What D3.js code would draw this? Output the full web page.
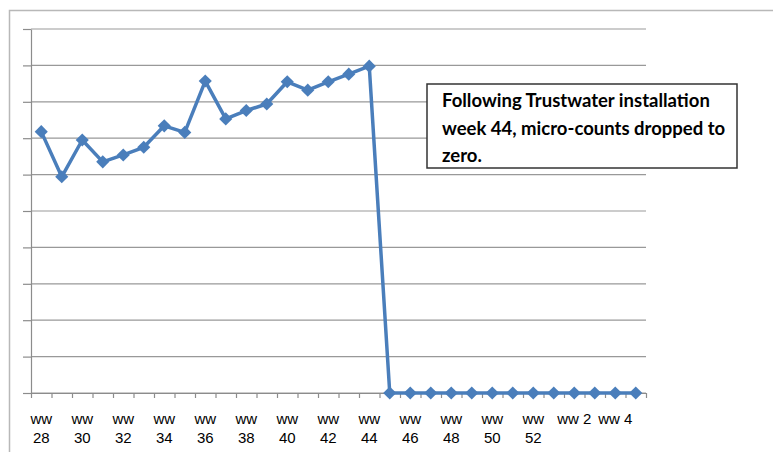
<!DOCTYPE html>
<html lang="en">
<head>
  <meta charset="UTF-8" />
  <title>Micro-counts by work week</title>
  <style>
    body {
      margin: 0;
      background: #fff;
    }
    svg {
      display: block;
      font-family: Lato, "Open Sans", Arial, sans-serif;
    }
    .grid line {
      stroke: #999;
      stroke-width: 1.2px;
    }
    .axis path, .axis line {
      stroke: #8c8c8c;
      stroke-width: 1.2px;
    }
    .axis text {
      font-size: 15px;
      fill: #000;
    }
  </style>
</head>
<body>
  <div id="chart"></div>

  <script src="https://d3js.org/d3.v7.min.js"></script>
  <script>
    // work weeks, ww28 .. ww52 then the new year
    const weeks = d3.range(28, 53).map(w => "ww " + w)
      .concat(d3.range(1, 6).map(w => "ww " + w));

    // micro-counts (in gridline units)
    const counts = [7.18, 5.94, 6.95, 6.35, 6.54, 6.75, 7.34, 7.16, 8.57,
                    7.53, 7.76, 7.94, 8.55, 8.32, 8.55, 8.76, 8.98,
                    0, 0, 0, 0, 0, 0, 0, 0, 0, 0, 0, 0, 0];

    const yTicks = d3.range(0, 11);

    const noteLines = [
      "Following Trustwater installation",
      "week 44, micro-counts dropped to",
      "zero."
    ];

    const W = 773, H = 452;
    const margin = { top: 29, right: 127, bottom: 59, left: 31 };
    const width = W - margin.left - margin.right;
    const height = H - margin.top - margin.bottom;

    const svg = d3.select("#chart")
      .append("svg")
      .attr("width", W)
      .attr("height", H);

    // chart area border
    svg.append("rect")
      .attr("x", 9.5)
      .attr("y", 10.5)
      .attr("width", 800)
      .attr("height", 500)
      .attr("fill", "none")
      .attr("stroke", "#b8b8b8")
      .attr("stroke-width", 1.5);

    const g = svg.append("g")
      .attr("transform", `translate(${margin.left},${margin.top})`);

    const x = d3.scaleBand()
      .domain(weeks)
      .range([0, width]);

    const y = d3.scaleLinear()
      .domain([0, 10])
      .range([height, 0]);

    // gridlines
    g.append("g")
      .attr("class", "grid")
      .selectAll("line")
      .data(yTicks)
      .enter()
      .append("line")
      .attr("x1", 0)
      .attr("x2", width)
      .attr("y1", d => y(d))
      .attr("y2", d => y(d));

    // Y axis (ticks only, no labels)
    g.append("g")
      .attr("class", "axis")
      .call(d3.axisLeft(y).tickValues(yTicks).tickFormat("").tickSize(8).tickSizeOuter(0));

    // X axis tick marks at category boundaries
    const xb = d3.scaleLinear().domain([0, weeks.length]).range([0, width]);
    g.append("g")
      .attr("class", "axis")
      .attr("transform", `translate(0,${height})`)
      .call(d3.axisBottom(xb).tickValues(d3.range(weeks.length + 1)).tickFormat("").tickSize(5).tickSizeOuter(0));

    // X labels, every other week, wrapped like Excel
    const labelAxis = g.append("g")
      .attr("class", "axis")
      .attr("transform", `translate(0,${height})`)
      .call(d3.axisBottom(x).tickValues(weeks.filter((d, i) => i % 2 === 0)).tickSize(0));
    labelAxis.select(".domain").remove();
    labelAxis.selectAll("text")
      .attr("y", 0)
      .attr("dy", null)
      .each(function(d) {
        const t = d3.select(this);
        const parts = d.split(" ");
        t.text(null);
        if (parts[1].length > 1) {
          t.append("tspan").attr("x", 0).attr("y", 31).text(parts[0]);
          t.append("tspan").attr("x", 0).attr("y", 50).text(parts[1]);
        } else {
          t.append("tspan").attr("x", 0).attr("y", 31).text(d);
        }
      });

    // line
    const line = d3.line()
      .x((d, i) => x(weeks[i]) + x.bandwidth() / 2)
      .y(d => y(d));

    g.append("path")
      .datum(counts)
      .attr("fill", "none")
      .attr("stroke", "#4a7ebb")
      .attr("stroke-width", 3.5)
      .attr("stroke-linejoin", "round")
      .attr("d", line);

    // diamond markers
    g.selectAll(".marker")
      .data(counts)
      .enter()
      .append("path")
      .attr("class", "marker")
      .attr("d", d3.symbol().type(d3.symbolDiamond2).size(110))
      .attr("transform", (d, i) => `translate(${x(weeks[i]) + x.bandwidth() / 2},${y(d)})`)
      .attr("fill", "#4a7ebb");

    // annotation box
    const note = svg.append("g")
      .attr("transform", "translate(427,84)");
    note.append("rect")
      .attr("width", 310)
      .attr("height", 84)
      .attr("fill", "#fff")
      .attr("stroke", "#333")
      .attr("stroke-width", 1.5);
    const noteText = note.selectAll("text")
      .data(noteLines)
      .enter()
      .append("text")
      .attr("x", 15)
      .attr("y", (d, i) => 23 + i * 27.5)
      .attr("font-weight", "bold")
      .attr("font-size", 16)
      .attr("fill", "#000")
      .text(d => d);
    // fit first line to the width it has in the original
    const w0 = noteText.node().getComputedTextLength();
    noteText.attr("font-size", 16 * 268 / w0);
  </script>
</body>
</html>
